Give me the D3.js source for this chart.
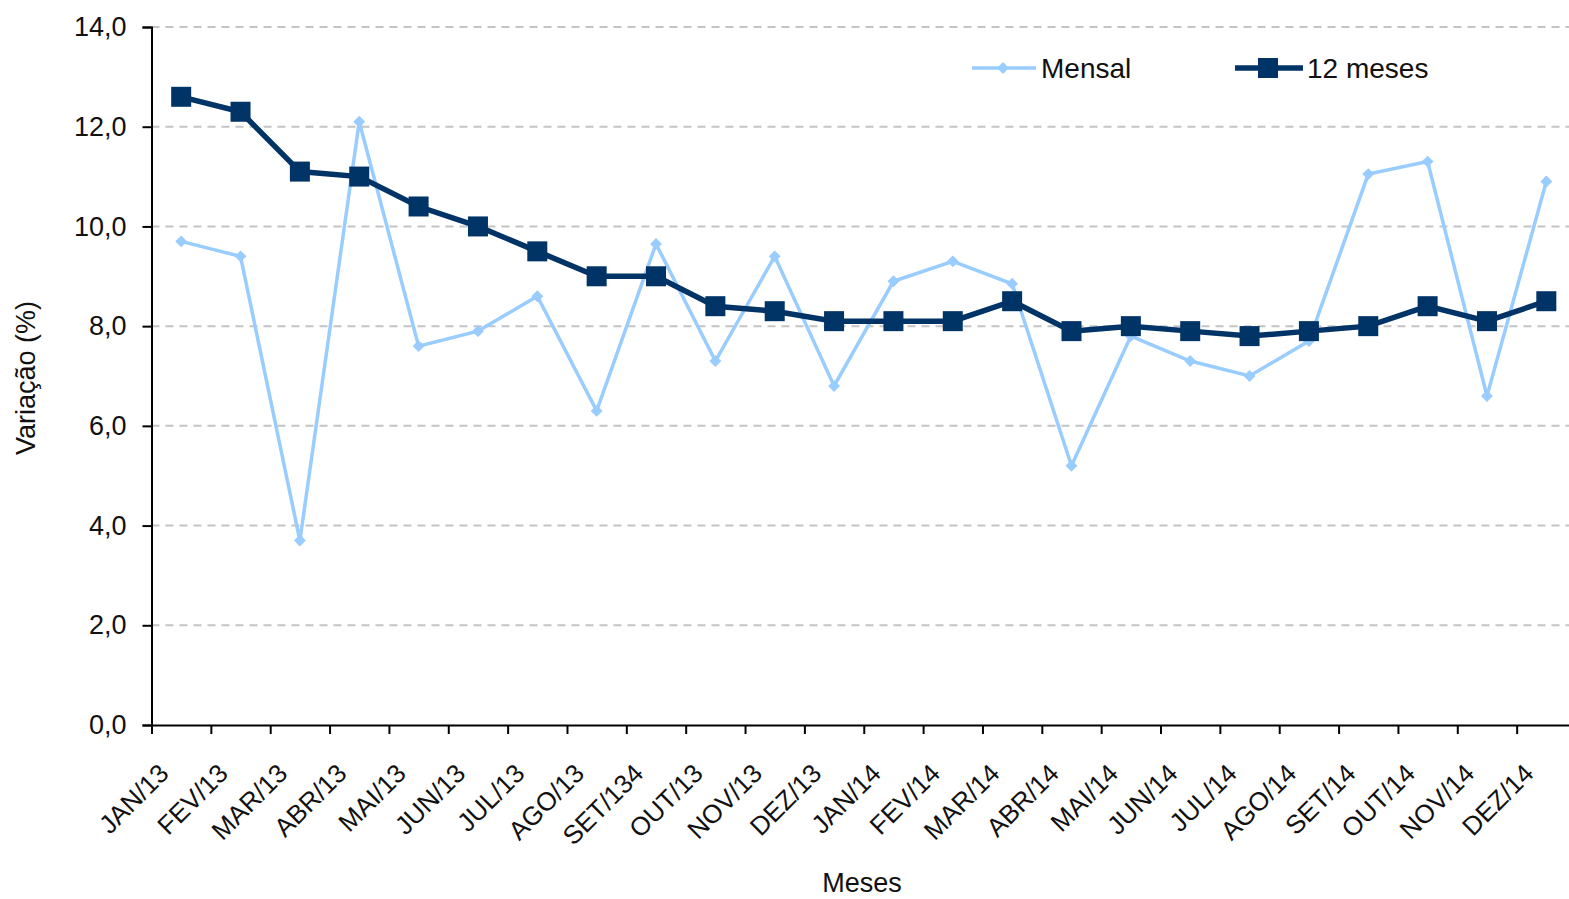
<!DOCTYPE html>
<html><head><meta charset="utf-8">
<script src="https://cdn.jsdelivr.net/npm/d3@7"></script>
<style>
html,body{margin:0;padding:0;background:#fff;}
text{font-family:"Liberation Sans",Arial,sans-serif;fill:#111;}
</style></head>
<body><svg id="c" width="1569" height="899"></svg>
<script>
const categories = ["JAN/13","FEV/13","MAR/13","ABR/13","MAI/13","JUN/13","JUL/13","AGO/13","SET/134","OUT/13","NOV/13","DEZ/13","JAN/14","FEV/14","MAR/14","ABR/14","MAI/14","JUN/14","JUL/14","AGO/14","SET/14","OUT/14","NOV/14","DEZ/14"];
const mensal = [9.7,9.4,3.7,12.1,7.6,7.9,8.6,6.3,9.65,7.3,9.4,6.8,8.9,9.3,8.85,5.2,7.8,7.3,7.0,7.7,11.05,11.3,6.6,10.9];
const meses12 = [12.6,12.3,11.1,11.0,10.4,10.0,9.5,9.0,9.0,8.4,8.3,8.1,8.1,8.1,8.5,7.9,8.0,7.9,7.8,7.9,8.0,8.4,8.1,8.5];
const yTicks = [0,2,4,6,8,10,12,14];
const seriesNames = ["Mensal","12 meses"];

const svg = d3.select("#c");
const pL = 151.5, pR = 1576, pT = 27, pB = 725;
const x = d3.scaleBand().domain(categories).range([pL, pR]).padding(0);
const xEdge = d3.scaleLinear().domain([0, categories.length]).range([pL, pR]);
const y = d3.scaleLinear().domain([0, 14]).range([pB, pT]);

// gridlines
svg.append("g").selectAll("line").data(yTicks.filter(d => d > 0)).join("line")
  .attr("x1", pL).attr("x2", 1569).attr("y1", d => y(d)).attr("y2", d => y(d))
  .attr("stroke", "#c4c4c4").attr("stroke-width", 2).attr("stroke-dasharray", "8,6");

// y axis
const yAxis = svg.append("g").attr("transform", `translate(${pL},0)`)
  .call(d3.axisLeft(y).tickValues(yTicks).tickSize(9).tickPadding(16)
    .tickFormat(d => d3.format(".1f")(d).replace(".", ",")));
yAxis.select(".domain").attr("stroke", "#000").attr("stroke-width", 2);
yAxis.selectAll(".tick line").attr("stroke", "#000").attr("stroke-width", 2);
yAxis.selectAll("text").attr("font-size", 27).attr("fill", "#111")
  .attr("font-family", "Liberation Sans, Arial, sans-serif");

// x axis
const xAxis = svg.append("g").attr("transform", `translate(0,${pB})`)
  .call(d3.axisBottom(xEdge).tickValues(d3.range(categories.length)).tickSize(9).tickFormat(""));
xAxis.select(".domain").attr("stroke", "#000").attr("stroke-width", 2);
xAxis.selectAll(".tick line").attr("stroke", "#000").attr("stroke-width", 2);

svg.append("g").selectAll("text").data(categories).join("text")
  .attr("transform", d => `translate(${x(d) + x.bandwidth()/2 - 11},${pB + 50}) rotate(-45)`)
  .attr("text-anchor", "end").attr("font-size", 26).text(d => d);

// axis titles
svg.append("text").attr("x", 862).attr("y", 892).attr("text-anchor", "middle")
  .attr("font-size", 27).text("Meses");
svg.append("text").attr("transform", "translate(35,378) rotate(-90)").attr("text-anchor", "middle")
  .attr("font-size", 27).text("Variação (%)");

const cx = d => x(d) + x.bandwidth()/2;
const lightC = "#99ccff", darkC = "#003366";

// Mensal
svg.append("path").datum(mensal)
  .attr("d", d3.line().x((d,i) => cx(categories[i])).y(d => y(d)))
  .attr("fill", "none").attr("stroke", lightC).attr("stroke-width", 3.5);
const diamond = d3.symbol().type(d3.symbolDiamond2).size(90);
svg.append("g").selectAll("path").data(mensal).join("path")
  .attr("transform", (d,i) => `translate(${cx(categories[i])},${y(d)})`)
  .attr("d", diamond).attr("fill", lightC);

// 12 meses
svg.append("path").datum(meses12)
  .attr("d", d3.line().x((d,i) => cx(categories[i])).y(d => y(d)))
  .attr("fill", "none").attr("stroke", darkC).attr("stroke-width", 5.5);
svg.append("g").selectAll("rect").data(meses12).join("rect")
  .attr("x", (d,i) => cx(categories[i]) - 10).attr("y", d => y(d) - 10)
  .attr("width", 20).attr("height", 20).attr("fill", darkC);

// legend
const lg = svg.append("g");
lg.append("line").attr("x1", 972).attr("x2", 1036).attr("y1", 68).attr("y2", 68)
  .attr("stroke", lightC).attr("stroke-width", 3.5);
lg.append("path").attr("transform", "translate(1003,68)").attr("d", diamond).attr("fill", lightC);
lg.append("text").attr("x", 1041).attr("y", 78).attr("font-size", 28).text(seriesNames[0]);
lg.append("line").attr("x1", 1235).attr("x2", 1303).attr("y1", 68).attr("y2", 68)
  .attr("stroke", darkC).attr("stroke-width", 5.5);
lg.append("rect").attr("x", 1258).attr("y", 58).attr("width", 20).attr("height", 20).attr("fill", darkC);
lg.append("text").attr("x", 1307).attr("y", 78).attr("font-size", 28).text(seriesNames[1]);
</script></body></html>
